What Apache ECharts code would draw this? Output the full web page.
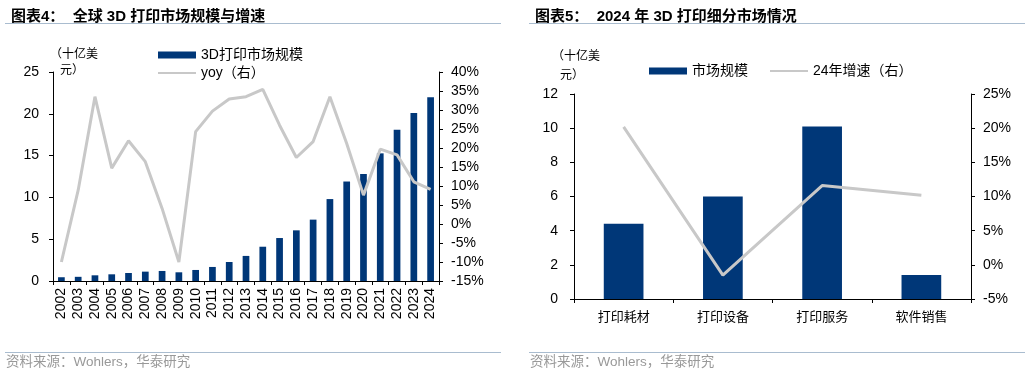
<!DOCTYPE html>
<html>
<head>
<meta charset="utf-8">
<script src="https://cdn.jsdelivr.net/npm/echarts@6/dist/echarts.min.js"></script>
<style>
  html, body { margin: 0; padding: 0; background: #fff; }
  #main { width: 1030px; height: 377px; }
</style>
</head>
<body>
<div id="main"></div>
<script>
// 图表4 全球 3D 打印市场规模与增速
const years = ['2002','2003','2004','2005','2006','2007','2008','2009','2010','2011','2012','2013',
  '2014','2015','2016','2017','2018','2019','2020','2021','2022','2023','2024']
const marketSize = [0.45, 0.5, 0.68, 0.8, 0.96, 1.12, 1.2, 1.04, 1.32, 1.68, 2.27, 3.0,
  4.1, 5.14, 6.06, 7.34, 9.8, 11.9, 12.8, 15.27, 18.1, 20.1, 21.97]
const yoy = [-10, 8.9, 33.5, 14.7, 21.9, 16.4, 4.1, -10, 24.3, 29.7, 32.9, 33.5,
  35.4, 26, 17.5, 21.7, 33.5, 21.2, 7.6, 19.7, 18.2, 11.1, 9.1]

// 图表5 2024 年 3D 打印细分市场情况
const segments = ['打印耗材', '打印设备', '打印服务', '软件销售']
const segSize = [4.4, 6.0, 10.1, 1.4]
const segGrowth = [20.2, -1.5, 11.6, 10.2]

const NAVY = '#003778'
const GREY = '#c8c8c8'
const FONT = '"Liberation Sans", Arial, "Noto Sans CJK SC", sans-serif'
const CJK = '"Liberation Sans", "Noto Sans CJK SC", sans-serif'

const chart = echarts.init(document.getElementById('main'))

const axisBase = {
  axisLine: { show: true, lineStyle: { color: '#000', width: 1 } },
  axisTick: { show: true, inside: false, length: 4, lineStyle: { color: '#000' } },
  splitLine: { show: false },
  axisLabel: { color: '#000', fontSize: 14, fontFamily: FONT }
}

// 折线图例只画线，不画圆点
const lineLegend = name => ({ name, itemStyle: { opacity: 0 } })

const option = {
  animation: false,
  textStyle: { fontFamily: FONT },
  title: [
    { text: '图表4：  全球 3D 打印市场规模与增速', left: 6, top: 4,
      textStyle: { fontSize: 15, fontWeight: 'bold', color: '#000', fontFamily: CJK } },
    { text: '图表5：  2024 年 3D 打印细分市场情况', left: 530, top: 4,
      textStyle: { fontSize: 15, fontWeight: 'bold', color: '#000', fontFamily: CJK } }
  ],
  legend: [
    { orient: 'vertical', left: 157, top: 48, padding: 0, itemGap: 4,
      itemWidth: 38, itemHeight: 7,
      textStyle: { fontSize: 14, color: '#000', fontFamily: CJK },
      data: [{ name: '3D打印市场规模', icon: 'rect' }, lineLegend('yoy（右）')] },
    { orient: 'horizontal', left: 649, top: 64, padding: 0, itemGap: 21,
      itemWidth: 38, itemHeight: 7,
      textStyle: { fontSize: 14, color: '#000', fontFamily: CJK },
      data: [{ name: '市场规模', icon: 'rect' }, lineLegend('24年增速（右）')] }
  ],
  grid: [
    { left: 53, top: 72, width: 386, height: 209 },
    { left: 574, top: 94, width: 397, height: 205 }
  ],
  xAxis: [
    { ...axisBase, type: 'category', gridIndex: 0, data: years,
      axisLabel: { ...axisBase.axisLabel, rotate: 90, interval: 0, margin: 7 } },
    { ...axisBase, type: 'category', gridIndex: 1, data: segments,
      axisLabel: { ...axisBase.axisLabel, fontSize: 13, fontFamily: CJK, margin: 12 } }
  ],
  yAxis: [
    { ...axisBase, type: 'value', gridIndex: 0, min: 0, max: 25, interval: 5, position: 'left',
      axisLabel: { ...axisBase.axisLabel, margin: 14 } },
    { ...axisBase, type: 'value', gridIndex: 0, min: -15, max: 40, interval: 5, position: 'right',
      axisLabel: { ...axisBase.axisLabel, margin: 12, formatter: '{value}%' } },
    { ...axisBase, type: 'value', gridIndex: 1, min: 0, max: 12, interval: 2, position: 'left',
      axisLabel: { ...axisBase.axisLabel, margin: 16 } },
    { ...axisBase, type: 'value', gridIndex: 1, min: -5, max: 25, interval: 5, position: 'right',
      axisLabel: { ...axisBase.axisLabel, margin: 12, formatter: '{value}%' } }
  ],
  series: [
    { name: '3D打印市场规模', type: 'bar', xAxisIndex: 0, yAxisIndex: 0, data: marketSize,
      barWidth: '40%', itemStyle: { color: NAVY } },
    { name: 'yoy（右）', type: 'line', xAxisIndex: 0, yAxisIndex: 1, data: yoy,
      symbol: 'none', lineStyle: { color: GREY, width: 3 }, itemStyle: { color: GREY } },
    { name: '市场规模', type: 'bar', xAxisIndex: 1, yAxisIndex: 2, data: segSize,
      barWidth: '40%', itemStyle: { color: NAVY } },
    { name: '24年增速（右）', type: 'line', xAxisIndex: 1, yAxisIndex: 3, data: segGrowth,
      symbol: 'none', lineStyle: { color: GREY, width: 3 }, itemStyle: { color: GREY } }
  ],
  graphic: [
    // 标题下划线 / 资料来源分隔线
    { type: 'line', shape: { x1: 5, y1: 23.5, x2: 501, y2: 23.5 }, style: { stroke: '#a9bccf', lineWidth: 1 } },
    { type: 'line', shape: { x1: 529, y1: 23.5, x2: 1025, y2: 23.5 }, style: { stroke: '#a9bccf', lineWidth: 1 } },
    { type: 'line', shape: { x1: 5, y1: 352.5, x2: 501, y2: 352.5 }, style: { stroke: '#a9bccf', lineWidth: 1 } },
    { type: 'line', shape: { x1: 529, y1: 352.5, x2: 1025, y2: 352.5 }, style: { stroke: '#a9bccf', lineWidth: 1 } },
    // 坐标轴单位
    { type: 'text', left: 50, top: 49, style: { text: '（十亿美', font: '12px ' + CJK, fill: '#000' } },
    { type: 'text', left: 60, top: 65, style: { text: '元）', font: '12px ' + CJK, fill: '#000' } },
    { type: 'text', left: 552, top: 51, style: { text: '（十亿美', font: '12px ' + CJK, fill: '#000' } },
    { type: 'text', left: 560, top: 70, style: { text: '元）', font: '12px ' + CJK, fill: '#000' } },
    // 资料来源
    { type: 'text', left: 6, top: 356, style: { text: '资料来源：Wohlers，华泰研究', font: '13.5px ' + CJK, fill: '#999' } },
    { type: 'text', left: 530, top: 356, style: { text: '资料来源：Wohlers，华泰研究', font: '13.5px ' + CJK, fill: '#999' } }
  ]
}

chart.setOption(option)
</script>
</body>
</html>
